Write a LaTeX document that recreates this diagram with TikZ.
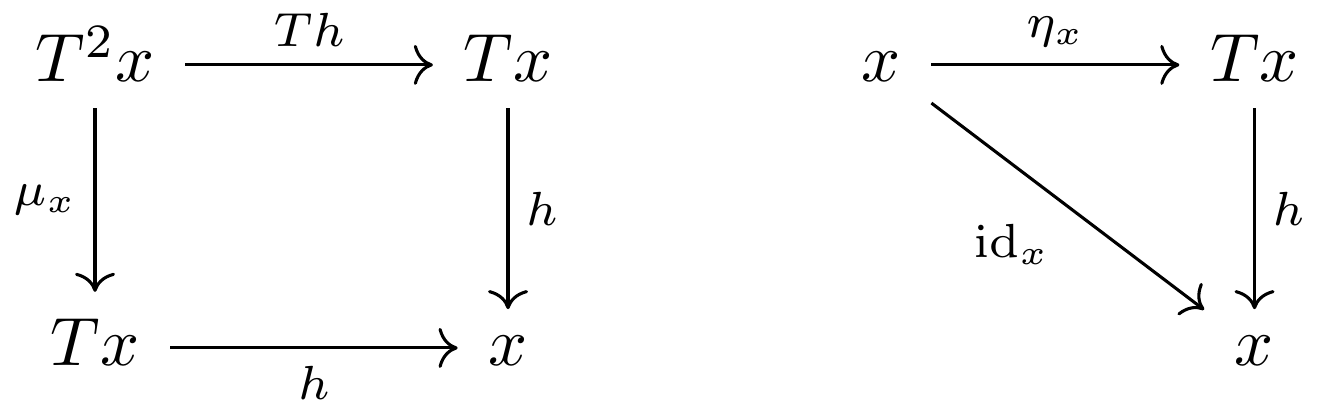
\documentclass[tikz,border=0pt]{standalone}
\usetikzlibrary{positioning,cd}
\tikzset{arr/.style={draw, -{tikzcd to}, line width=0.45pt}}
\begin{document}
\begin{tikzpicture}[x=1pt, y=1pt,
    obj/.style={shape=asymmetrical rectangle, inner xsep=1ex, inner ysep=0.85ex},
    lbl/.style={inner sep=2.4pt}]
    \useasboundingbox (0,0) rectangle (194.44,60.53);
    % multiplication square
    \node[obj] (TTx) at (13.89,51.04) {$T^2x$};
    \node[obj] (Tx1) at (74.27,51.04) {$Tx$};
    \node[obj] (Tx2) at (13.89,9.66) {$Tx$};
    \node[obj] (x1) at (74.27,9.66) {$x$};
    \draw[arr] (TTx) -- node[lbl, above] {$\scriptstyle Th$} (Tx1);
    \draw[arr] (TTx) -- node[lbl, left] {$\scriptstyle \mu_x$} (Tx2);
    \draw[arr] (Tx1) -- node[lbl, right] {$\scriptstyle h$} (x1);
    \draw[arr] (Tx2) -- node[lbl, below] {$\scriptstyle h$} (x1);

    % unit triangle
    \node[obj] (x2) at (128.8,51.04) {$x$};
    \node[obj] (Tx3) at (183.4,51.04) {$Tx$};
    \node[obj] (x3) at (183.4,9.66) {$x$};
    \draw[arr] (x2) -- node[lbl, above] {$\scriptstyle \eta_x$} (Tx3);
    \draw[arr] (Tx3) -- node[lbl, right] {$\scriptstyle h$} (x3);
    \draw[arr] (x2) -- node[lbl, below left] {$\scriptstyle \mathrm{id}_x$} (x3);
\end{tikzpicture}
\end{document}
